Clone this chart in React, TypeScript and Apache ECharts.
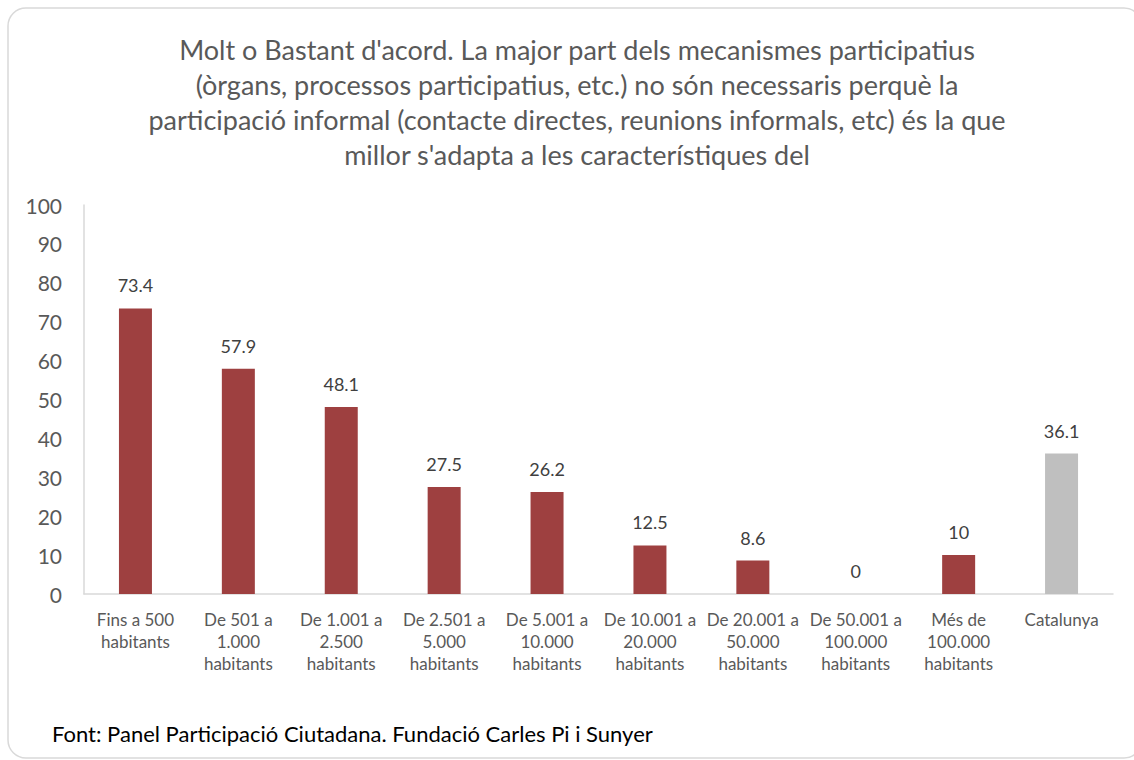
import React, { useEffect, useRef } from "react";
import * as echarts from "echarts";

const categories = [
  "Fins a 500\nhabitants",
  "De 501 a\n1.000\nhabitants",
  "De 1.001 a\n2.500\nhabitants",
  "De 2.501 a\n5.000\nhabitants",
  "De 5.001 a\n10.000\nhabitants",
  "De 10.001 a\n20.000\nhabitants",
  "De 20.001 a\n50.000\nhabitants",
  "De 50.001 a\n100.000\nhabitants",
  "Més de\n100.000\nhabitants",
  "Catalunya",
];
const values = [73.4, 57.9, 48.1, 27.5, 26.2, 12.5, 8.6, 0, 10, 36.1];
const highlightIndex = 9;

const titleLines = [
  "Molt o Bastant d'acord. La major part dels mecanismes participatius",
  "(òrgans, processos participatius, etc.) no són necessaris perquè la",
  "participació informal (contacte directes, reunions informals, etc) és la que",
  "millor s'adapta a les característiques del",
];
const sourceText = "Font: Panel Participació Ciutadana. Fundació Carles Pi i Sunyer";

const FONT = "Lato, 'Noto Sans', sans-serif";

export default function App() {
  const ref = useRef<HTMLDivElement>(null);
  useEffect(() => {
    if (!ref.current) return;
    const chart = echarts.init(ref.current, null, { renderer: "svg" });
    chart.setOption({
      animation: false,
      backgroundColor: "#ffffff",
      textStyle: { fontFamily: FONT },
      title: {
        text: titleLines.join("\n"),
        left: 572,
        top: 27,
        textAlign: "center",
        textStyle: {
          fontFamily: FONT,
          fontSize: 27,
          fontWeight: "normal",
          color: "#595959",
          lineHeight: 35,
        },
      },
      grid: { left: 84, right: 21, top: 205, bottom: 166, containLabel: false },
      xAxis: {
        type: "category",
        data: categories,
        axisLine: { show: true, lineStyle: { color: "#D9D9D9", width: 1.5 } },
        axisTick: { show: false },
        axisLabel: {
          interval: 0,
          margin: 14,
          color: "#595959",
          fontFamily: FONT,
          fontSize: 17,
          lineHeight: 22,
        },
      },
      yAxis: {
        type: "value",
        min: 0,
        max: 100,
        interval: 10,
        splitLine: { show: false },
        axisLine: { show: true, lineStyle: { color: "#D9D9D9", width: 1.5 } },
        axisTick: { show: false },
        axisLabel: {
          margin: 22,
          color: "#595959",
          fontFamily: FONT,
          fontSize: 21,
        },
      },
      series: [
        {
          type: "bar",
          barWidth: 33,
          data: values.map((v, i) => ({
            value: v,
            itemStyle: { color: i === highlightIndex ? "#BFBFBF" : "#9E4040" },
          })),
          label: {
            show: true,
            position: "top",
            distance: 14,
            color: "#404040",
            fontFamily: FONT,
            fontSize: 18,
          },
        },
      ],
      graphic: [
        {
          type: "rect",
          shape: { x: 8, y: 8, width: 1134, height: 750, r: 18 },
          style: { fill: "none", stroke: "#D9D9D9", lineWidth: 1.5 },
          silent: true,
        },
        {
          type: "text",
          left: 52,
          top: 722,
          style: {
            text: sourceText,
            fontFamily: FONT,
            fontSize: 22,
            fill: "#000000",
          },
        },
      ],
    });
    return () => chart.dispose();
  }, []);
  return (
    <div
      ref={ref}
      style={{ position: "fixed", left: 0, top: 0, width: 1134, height: 760 }}
    />
  );
}
